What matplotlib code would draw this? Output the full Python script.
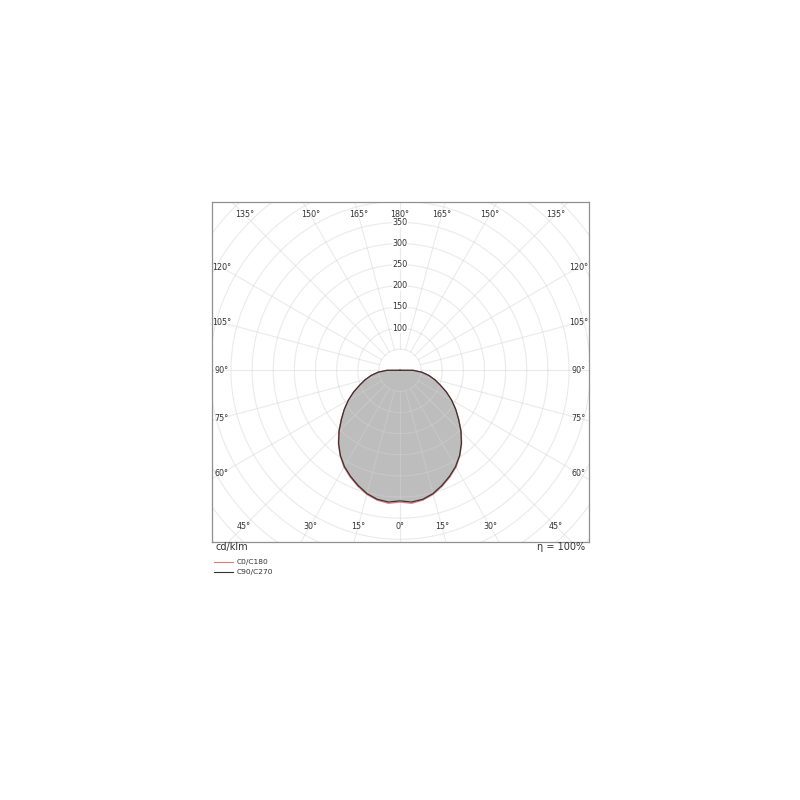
import numpy as np
import matplotlib
matplotlib.use("Agg")
import matplotlib.pyplot as plt
from matplotlib.lines import Line2D

# ---- data (cd/klm) ----
gamma = [0, 5, 10, 15, 20, 25, 30, 35, 40, 45, 50, 55, 60, 65, 70, 75, 80, 85, 90, 95, 180]
c0_c180 = [312, 316, 312, 304, 292, 279, 265, 247, 227, 205, 182, 161, 141, 121, 101, 85, 69, 52, 31, 0, 0]
c90_c270 = [309, 313, 310, 302, 290, 277, 263, 246, 226, 204, 181, 161, 141, 121, 101, 85, 69, 52, 31, 0, 0]
radial_ticks = [100, 150, 200, 250, 300, 350]
angle_ticks = [0, 15, 30, 45, 60, 75, 90, 105, 120, 135, 150, 165, 180]
unit_label = "cd/klm"
eta_label = "η = 100%"
legend_labels = ["C0/C180", "C90/C270"]

fig = plt.figure(figsize=(8, 8), dpi=100)
W = H = 800.0
px_left, px_right, px_top, px_bottom = 211.7, 589.0, 202.0, 541.7
ax = fig.add_axes([px_left / W, 1 - px_bottom / H, (px_right - px_left) / W, (px_bottom - px_top) / H])
scale = 0.4225  # px per cd/klm
ax.set_xlim(-(400 - px_left) / scale, (px_right - 400) / scale)
ax.set_ylim(-(px_bottom - 370.3) / scale, (370.3 - px_top) / scale)
ax.set_xticks([])
ax.set_yticks([])
for s in ax.spines.values():
    s.set_color("#909090")
    s.set_linewidth(0.9)


def to_xy(ang_deg, r):
    a = np.radians(np.asarray(ang_deg, dtype=float))
    r = np.asarray(r, dtype=float)
    return r * np.sin(a), -r * np.cos(a)


def closed_curve(vals):
    g = np.array(gamma, dtype=float)
    v = np.array(vals, dtype=float)
    ang = np.concatenate([-g[::-1], g[1:]])
    rr = np.concatenate([v[::-1], v[1:]])
    return to_xy(ang, rr)

# fill
xf, yf = closed_curve(c90_c270)
ax.fill(xf, yf, color="#bdbdbd", lw=0, zorder=1)

# grid
grid_col = "#d2d2d2"
t = np.linspace(0, 2 * np.pi, 721)
for rc in range(50, 701, 50):
    ax.plot(rc * np.cos(t), rc * np.sin(t), color=grid_col, lw=0.8, alpha=0.45, zorder=2)
for a in range(0, 360, 15):
    x0, y0 = to_xy(a, 50)
    x1, y1 = to_xy(a, 800)
    ax.plot([x0, x1], [y0, y1], color=grid_col, lw=0.8, alpha=0.45, zorder=2)

# curves
x0c, y0c = closed_curve(c0_c180)
ax.plot(x0c, y0c, color="#e07a7a", lw=0.9, zorder=3)
x9c, y9c = closed_curve(c90_c270)
ax.plot(x9c, y9c, color="#3a3030", lw=0.9, zorder=4)

# angle labels
half_w, top_h, bot_h = 422.0, 368.0, 369.0
lab_kw = dict(fontsize=5.8, color="#333333", ha="center", va="center", zorder=6, family="DejaVu Sans")
for a in angle_ticks:
    sa, ca = np.sin(np.radians(a)), -np.cos(np.radians(a))
    cands = []
    if abs(sa) > 1e-9:
        cands.append(half_w / abs(sa))
    if ca > 1e-9:
        cands.append(top_h / ca)
    if ca < -1e-9:
        cands.append(bot_h / -ca)
    tt = min(cands)
    sides = [1] if a in (0, 180) else [-1, 1]
    for sgn in sides:
        ax.text(sgn * tt * sa, tt * ca, f"{a}°", **lab_kw)

# radial labels
for rv in radial_ticks:
    ax.text(0, rv, f"{rv}", fontsize=5.8, color="#333333", ha="center", va="center", zorder=5,
            family="DejaVu Sans", bbox=dict(facecolor="white", edgecolor="none", pad=0.3))

# footer texts
fig.text(215 / W, 1 - 547 / H, unit_label, fontsize=7, color="#333333", ha="left", va="center")
fig.text(585 / W, 1 - 547 / H, eta_label, fontsize=7, color="#333333", ha="right", va="center")

leg_cols = ["#e07a7a", "#3a3030"]
for i, (lab, col) in enumerate(zip(legend_labels, leg_cols)):
    yy = 1 - (562.3 + 9.3 * i) / H
    fig.add_artist(Line2D([214 / W, 233 / W], [yy, yy], color=col, lw=0.8, transform=fig.transFigure))
    fig.text(237 / W, yy, lab, fontsize=5.4, color="#333333", ha="left", va="center")

fig.savefig("out.png", dpi=100, facecolor="white")
